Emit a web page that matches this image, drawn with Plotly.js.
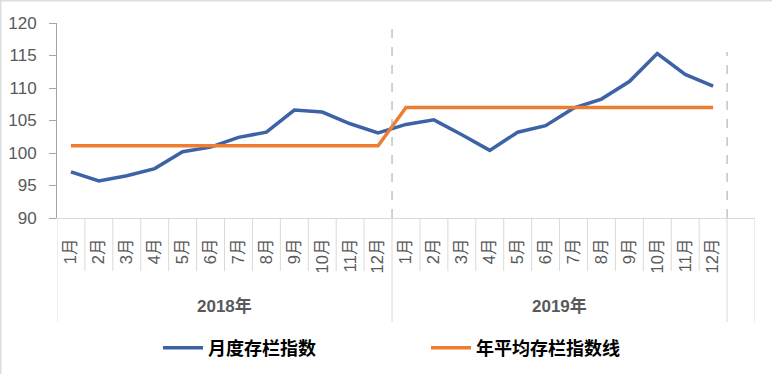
<!DOCTYPE html>
<html>
<head>
<meta charset="utf-8">
<script src="https://cdn.plot.ly/plotly-3.0.1.min.js"></script>
<style>html,body{margin:0;padding:0;background:#fff;}#chart{width:772px;height:374px;}</style>
</head>
<body>
<div id="chart"></div>
<script>
// ---- data ----
const years = ['2018年', '2019年'];
const months = ['1月','2月','3月','4月','5月','6月','7月','8月','9月','10月','11月','12月'];
const monthly2018 = [97.1, 95.7, 96.5, 97.6, 100.2, 100.9, 102.4, 103.2, 106.6, 106.3, 104.5, 103.1];
const monthly2019 = [104.4, 105.1, 102.8, 100.4, 103.2, 104.2, 106.9, 108.3, 111.0, 115.3, 112.1, 110.3];
const yearAverage = [101.1, 107.0];
const seriesNames = ['月度存栏指数', '年平均存栏指数线'];
const yTicks = [90, 95, 100, 105, 110, 115, 120];

// ---- build ----
const monthlyByYear = [monthly2018, monthly2019];
const cats = [], monthlyVals = [], avgVals = [], tickText = [];
years.forEach((yr, yi) => {
  months.forEach((m, mi) => {
    cats.push(yr + ' ' + m);
    tickText.push(m);
    monthlyVals.push(monthlyByYear[yi][mi]);
    avgVals.push(yearAverage[yi]);
  });
});
const nCats = cats.length;

const W = 772, H = 374;
const margin = {l: 57, r: 17, t: 23, b: 156};
const plotH = H - margin.t - margin.b;
const plotW = W - margin.l - margin.r;
const py = px => (H - margin.b - px) / plotH;   // pixel y -> paper y
const labelFont = '"Liberation Sans", Arial, "Noto Sans CJK SC", sans-serif';

const traces = [
  {x: cats, y: monthlyVals, type: 'scatter', mode: 'lines', name: seriesNames[0],
   line: {color: '#3D63A6', width: 3.5}},
  {x: cats, y: avgVals, type: 'scatter', mode: 'lines', name: seriesNames[1],
   line: {color: '#ED7D31', width: 3.5}}
];

const shapes = [];
const grey = '#d9d9d9';
// boundaries
for (let k = 0; k <= nCats + 1; k++) {
  const b = k - 0.5;
  const isLong = (k === 0) || (k % months.length === 0) || (k === nCats + 1);
  shapes.push({type: 'line', xref: 'x', yref: 'paper', x0: b, x1: b,
    y0: 0, y1: isLong ? py(322) : py(271), line: {color: grey, width: 1}});
}
// dashed year separators in plot
shapes.push({type: 'line', xref: 'x', yref: 'paper', x0: months.length - 0.5, x1: months.length - 0.5,
  y0: 0, y1: py(24), line: {color: '#a6a6a6', width: 1, dash: 'dash'}});
shapes.push({type: 'line', xref: 'x', yref: 'paper', x0: nCats - 0.5, x1: nCats - 0.5,
  y0: 0, y1: py(52), line: {color: '#a6a6a6', width: 1, dash: 'dash'}});
// outer border (top / left)
shapes.push({type: 'line', xref: 'paper', yref: 'paper', x0: -margin.l / plotW, x1: (W - margin.l) / plotW,
  y0: py(0.5), y1: py(0.5), line: {color: '#dddddd', width: 2}});
shapes.push({type: 'line', xref: 'paper', yref: 'paper', x0: -margin.l / plotW + 0.5 / plotW, x1: -margin.l / plotW + 0.5 / plotW,
  y0: py(0), y1: py(H), line: {color: '#dddddd', width: 2}});

const annotations = years.map((yr, yi) => ({
  text: '<b>' + yr + '</b>', xref: 'x', yref: 'paper',
  x: yi * months.length + (months.length - 1) / 2, y: py(306),
  showarrow: false, xanchor: 'center', yanchor: 'middle',
  font: {family: labelFont, size: 17, color: '#595959'}
}));

const layout = {
  width: W, height: H,
  margin: margin,
  paper_bgcolor: '#ffffff', plot_bgcolor: '#ffffff',
  showlegend: true,
  legend: {orientation: 'h', xref: 'container', yref: 'container',
    x: 158 / W, xanchor: 'left', y: 1 - 348 / H, yanchor: 'middle', entrywidth: 213,
    font: {family: '"Noto Sans CJK SC", sans-serif', size: 18, color: '#000000', weight: 'bold'},
    itemwidth: 40, bgcolor: 'rgba(0,0,0,0)'},
  xaxis: {type: 'category', categoryorder: 'array', categoryarray: cats,
    range: [-0.5, nCats + 0.5], tickvals: cats, ticktext: tickText, tickangle: -90,
    showgrid: false, zeroline: false, ticks: '', showline: true, linecolor: grey, linewidth: 1,
    automargin: false,
    tickfont: {family: labelFont, size: 16.5, color: '#595959'}, ticklabelstandoff: 13},
  yaxis: {range: [90, 120], tickvals: yTicks, showgrid: false, zeroline: false, automargin: false,
    showline: true, linecolor: '#a6a6a6', linewidth: 1, ticks: 'outside', ticklen: 7,
    tickcolor: '#a6a6a6', ticklabelstandoff: 9,
    tickfont: {family: labelFont, size: 17, color: '#595959'}},
  shapes: shapes,
  annotations: annotations
};

Plotly.newPlot('chart', traces, layout, {displayModeBar: false, staticPlot: true});
</script>
</body>
</html>
